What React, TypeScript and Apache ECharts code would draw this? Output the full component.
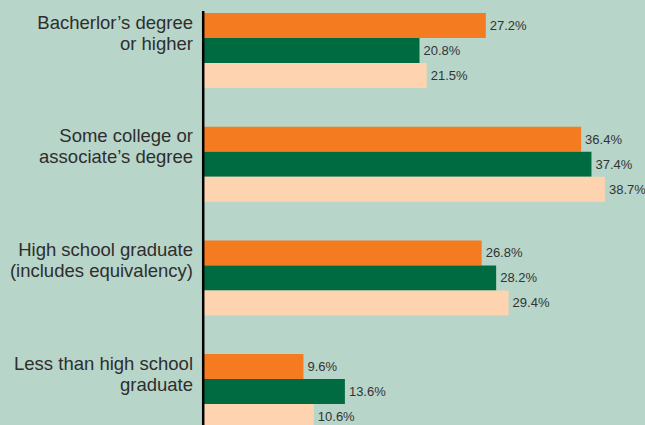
import React, { useEffect, useRef } from "react";
import * as echarts from "echarts";

const categories = [
  "Bacherlor’s degree\nor higher",
  "Some college or\nassociate’s degree",
  "High school graduate\n(includes equivalency)",
  "Less than high school\ngraduate",
];
const seriesNames = ["Group A", "Group B", "Group C"];
const orangeValues = [27.2, 36.4, 26.8, 9.6];
const greenValues = [20.8, 37.4, 28.2, 13.6];
const peachValues = [21.5, 38.7, 29.4, 10.6];
const colors = ["#F47B20", "#006A40", "#FED3B0"];

const SHIFT = 20; // the canvas starts above the page so bands can extend past the top

export default function App() {
  const ref = useRef<HTMLDivElement>(null);
  useEffect(() => {
    if (!ref.current) return;
    const chart = echarts.init(ref.current, undefined, { renderer: "svg" });
    const values = [orangeValues, greenValues, peachValues];
    chart.setOption({
      animation: false,
      backgroundColor: "#B8D5C9",
      grid: { left: 204, top: SHIFT - 6.3, width: 414.4, height: 454.7, containLabel: false },
      xAxis: {
        type: "value",
        min: 0,
        max: 40,
        show: false,
      },
      yAxis: {
        type: "category",
        data: categories,
        inverse: true,
        axisLine: { show: false },
        axisTick: { show: false },
        splitLine: { show: false },
        axisLabel: {
          margin: 11,
          align: "right",
          formatter: (v: string) =>
            v
              .split("\n")
              .map((l) => "{t|" + l + "}")
              .join("\n") + "\n{s| }",
          rich: {
            t: {
              fontFamily: "Liberation Sans, Arial, sans-serif",
              fontSize: 18.5,
              color: "#2E2E2E",
              lineHeight: 21,
              align: "right",
            },
            s: { fontSize: 10, lineHeight: 36 },
          },
        },
      },
      graphic: [
        {
          type: "line",
          shape: { x1: 203.2, y1: SHIFT + 11, x2: 203.2, y2: SHIFT + 460 },
          style: { stroke: "#000000", lineWidth: 2.5 },
          z: 100,
        },
      ],
      series: values.map((v, i) => ({
        type: "bar",
        name: seriesNames[i],
        data: v,
        barWidth: 25,
        barGap: "0%",
        itemStyle: { color: colors[i] },
        label: {
          show: true,
          position: "right",
          distance: 4,
          formatter: (p: any) => p.value.toFixed(1) + "%",
          fontFamily: "Liberation Sans, Arial, sans-serif",
          fontSize: 13,
          color: "#333333",
        },
      })),
    });
    return () => chart.dispose();
  }, []);
  return (
    <div
      ref={ref}
      style={{ position: "fixed", left: 0, top: -SHIFT, width: 645, height: 425 + SHIFT + 40 }}
    />
  );
}
